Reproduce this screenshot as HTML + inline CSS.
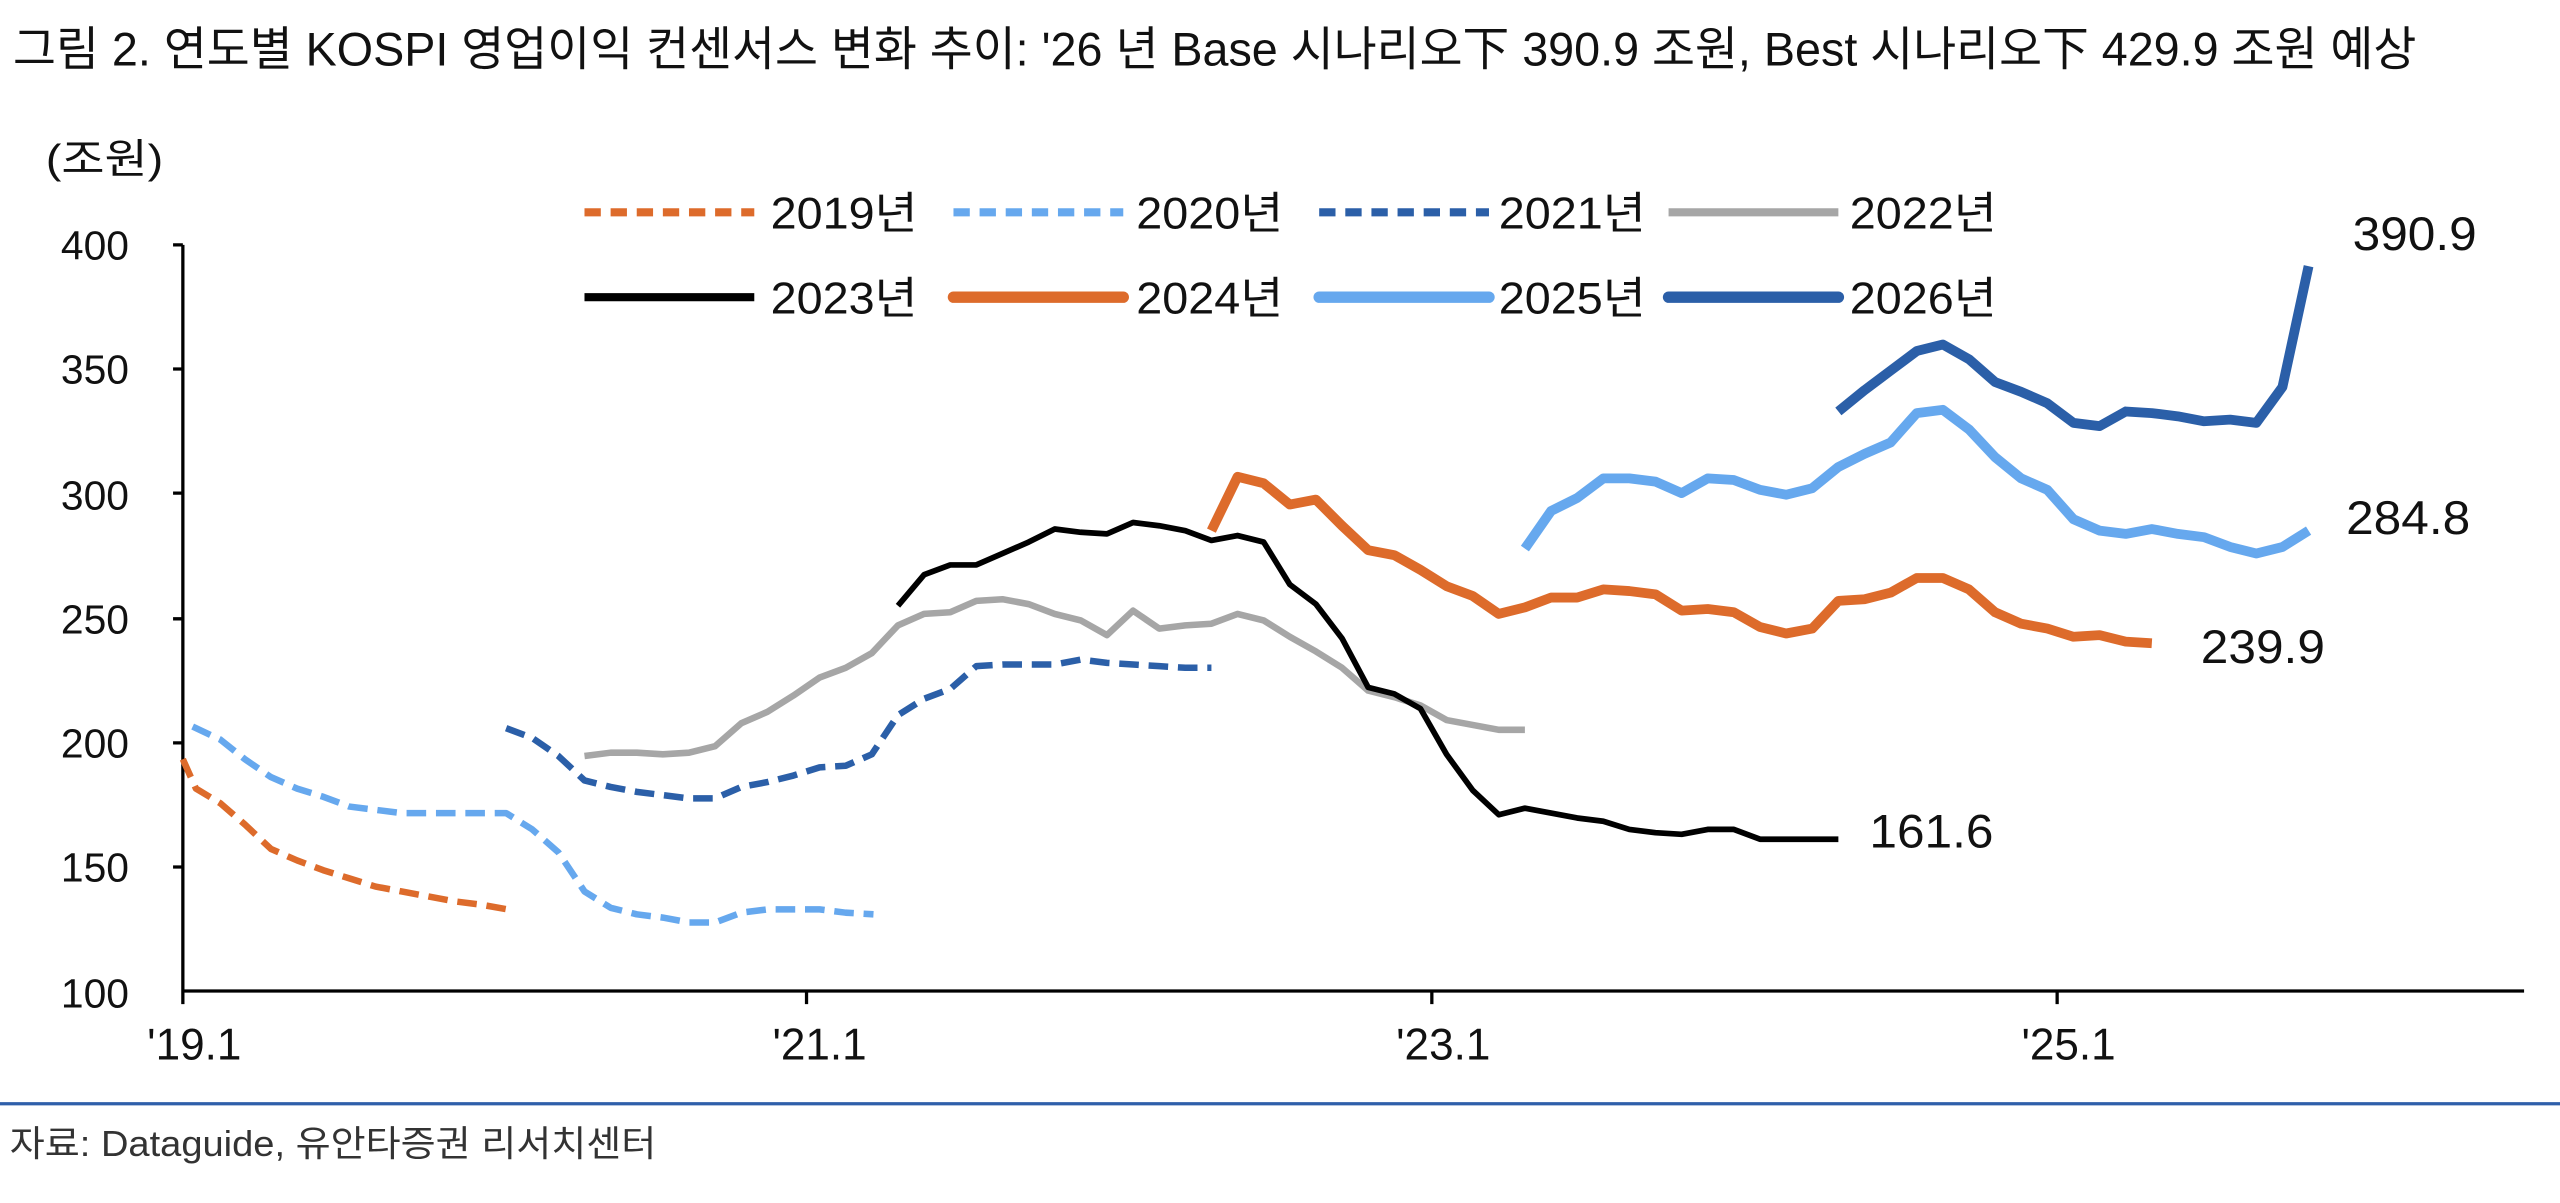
<!DOCTYPE html>
<html><head><meta charset="utf-8"><style>
html,body{margin:0;padding:0;background:#fff;}
svg{display:block;}
text{font-family:"Liberation Sans","Noto Sans CJK KR","NanumGothic",sans-serif;fill:#111;}
</style></head><body>
<svg width="2560" height="1203" viewBox="0 0 1568 736.8" xmlns="http://www.w3.org/2000/svg">
<rect width="1568" height="736.8" fill="#fff"/>
<text x="8" y="40" font-size="29" textLength="1472" lengthAdjust="spacingAndGlyphs">그림 2. 연도별 KOSPI 영업이익 컨센서스 변화 추이: '26 년 Base 시나리오下 390.9 조원, Best 시나리오下 429.9 조원 예상</text>
<text x="28" y="106" font-size="25" textLength="72" lengthAdjust="spacingAndGlyphs">(조원)</text>
<g font-size="25" text-anchor="end">
<text x="79" y="159">400</text><text x="79" y="235">350</text><text x="79" y="312">300</text>
<text x="79" y="388">250</text><text x="79" y="464">200</text><text x="79" y="540">150</text><text x="79" y="617">100</text>
</g>
<g stroke="#000" stroke-width="2" fill="none">
<line x1="112" y1="150" x2="112" y2="607"/>
<line x1="112" y1="607" x2="1546" y2="607"/>
<path d="M106 150H112M106 226H112M106 302H112M106 379H112M106 455H112M106 531H112"/>
<path d="M112 607V615M494 607V615M877 607V615M1260 607V615"/>
</g>
<g font-size="27" text-anchor="middle">
<text x="119" y="649">'19.1</text><text x="502" y="649">'21.1</text><text x="884" y="649">'23.1</text><text x="1267" y="649">'25.1</text>
</g>
<line x1="0" y1="676" x2="1568" y2="676" stroke="#2F5FAA" stroke-width="2"/>
<text x="6" y="708" font-size="22" fill="#333" style="fill:#333" textLength="396" lengthAdjust="spacingAndGlyphs">자료: Dataguide, 유안타증권 리서치센터</text>

<!-- legend -->
<g fill="none" stroke-linecap="butt">
<line x1="358" y1="130" x2="462" y2="130" stroke="#DD6B2B" stroke-width="5" stroke-dasharray="10 6"/>
<line x1="584" y1="130" x2="688" y2="130" stroke="#66A8EE" stroke-width="5" stroke-dasharray="10 6"/>
<line x1="808" y1="130" x2="912" y2="130" stroke="#2B5FA8" stroke-width="5" stroke-dasharray="10 6"/>
<line x1="1022" y1="130" x2="1126" y2="130" stroke="#A6A6A6" stroke-width="5"/>
<line x1="358" y1="182" x2="462" y2="182" stroke="#000" stroke-width="5"/>
<line x1="584" y1="182" x2="688" y2="182" stroke="#DD6B2B" stroke-width="7" stroke-linecap="round"/>
<line x1="808" y1="182" x2="912" y2="182" stroke="#66A8EE" stroke-width="7" stroke-linecap="round"/>
<line x1="1022" y1="182" x2="1126" y2="182" stroke="#2B5FA8" stroke-width="7" stroke-linecap="round"/>
</g>
<g font-size="27">
<text x="472" y="140" textLength="90" lengthAdjust="spacingAndGlyphs">2019년</text>
<text x="696" y="140" textLength="90" lengthAdjust="spacingAndGlyphs">2020년</text>
<text x="918" y="140" textLength="90" lengthAdjust="spacingAndGlyphs">2021년</text>
<text x="1133" y="140" textLength="90" lengthAdjust="spacingAndGlyphs">2022년</text>
<text x="472" y="192" textLength="90" lengthAdjust="spacingAndGlyphs">2023년</text>
<text x="696" y="192" textLength="90" lengthAdjust="spacingAndGlyphs">2024년</text>
<text x="918" y="192" textLength="90" lengthAdjust="spacingAndGlyphs">2025년</text>
<text x="1133" y="192" textLength="90" lengthAdjust="spacingAndGlyphs">2026년</text>
</g>

<g fill="none" stroke-linejoin="round">
<polyline stroke="#DD6B2B" stroke-width="4" stroke-dasharray="12 6" points="112,465 120,483 135,492 150,505 166,520 182,527 198,533 214,538 230,543 246,546 262,549 278,552 294,554 311,557"/>
<polyline stroke="#66A8EE" stroke-width="4" stroke-dasharray="12 6" points="118,445 135,453 150,465 166,476 182,483 198,488 214,494 230,496 246,498 262,498 278,498 294,498 310,498 326,508 342,522 358,546 374,556 390,560 406,562 422,565 438,565 454,559 470,557 486,557 502,557 518,559 535,560"/>
<polyline stroke="#2B5FA8" stroke-width="4" stroke-dasharray="12 6" points="310,446 326,452 342,463 358,478 374,482 390,485 406,487 422,489 438,489 454,482 470,479 486,475 502,470 518,469 534,462 550,438 566,428 582,422 598,408 614,407 630,407 646,407 662,404 678,406 694,407 710,408 726,409 742,409"/>
<polyline stroke="#A6A6A6" stroke-width="4" points="358,463 374,461 390,461 406,462 422,461 438,457 454,443 470,436 486,426 502,415 518,409 534,400 550,383 566,376 582,375 598,368 614,367 630,370 646,376 662,380 678,389 694,374 710,385 726,383 742,382 758,376 774,380 790,390 806,399 822,409 838,423 854,427 870,432 886,441 902,444 918,447 934,447"/>
<polyline stroke="#000" stroke-width="3.5" points="550,371 566,352 582,346 598,346 614,339 630,332 646,324 662,326 678,327 694,320 710,322 726,325 742,331 758,328 774,332 790,358 806,370 822,391 838,421 854,425 870,434 886,462 902,484 918,499 934,495 950,498 966,501 982,503 998,508 1014,510 1030,511 1046,508 1062,508 1078,514 1094,514 1110,514 1126,514"/>
<polyline stroke="#DD6B2B" stroke-width="6" points="742,325 758,292 774,296 790,309 806,306 822,322 838,337 854,340 870,349 886,359 902,365 918,376 934,372 950,366 966,366 982,361 998,362 1014,364 1030,374 1046,373 1062,375 1078,384 1094,388 1110,385 1126,368 1142,367 1158,363 1174,354 1190,354 1206,361 1222,375 1238,382 1254,385 1270,390 1286,389 1302,393 1318,394"/>
<polyline stroke="#66A8EE" stroke-width="6" points="934,336 950,313 966,305 982,293 998,293 1014,295 1030,302 1046,293 1062,294 1078,300 1094,303 1110,299 1126,286 1142,278 1158,271 1174,253 1190,251 1206,263 1222,280 1238,293 1254,300 1270,318 1286,325 1302,327 1318,324 1334,327 1350,329 1366,335 1382,339 1398,335 1414,325"/>
<polyline stroke="#2B5FA8" stroke-width="6" points="1126,252 1142,239 1158,227 1174,215 1190,211 1206,220 1222,234 1238,240 1254,247 1270,259 1286,261 1302,252 1318,253 1334,255 1350,258 1366,257 1382,259 1398,237 1414,163"/>
</g>
<g font-size="29">
<text x="1441" y="153" textLength="76" lengthAdjust="spacingAndGlyphs">390.9</text>
<text x="1437" y="327" textLength="76" lengthAdjust="spacingAndGlyphs">284.8</text>
<text x="1348" y="406" textLength="76" lengthAdjust="spacingAndGlyphs">239.9</text>
<text x="1145" y="519" textLength="76" lengthAdjust="spacingAndGlyphs">161.6</text>
</g>
</svg>
</body></html>
